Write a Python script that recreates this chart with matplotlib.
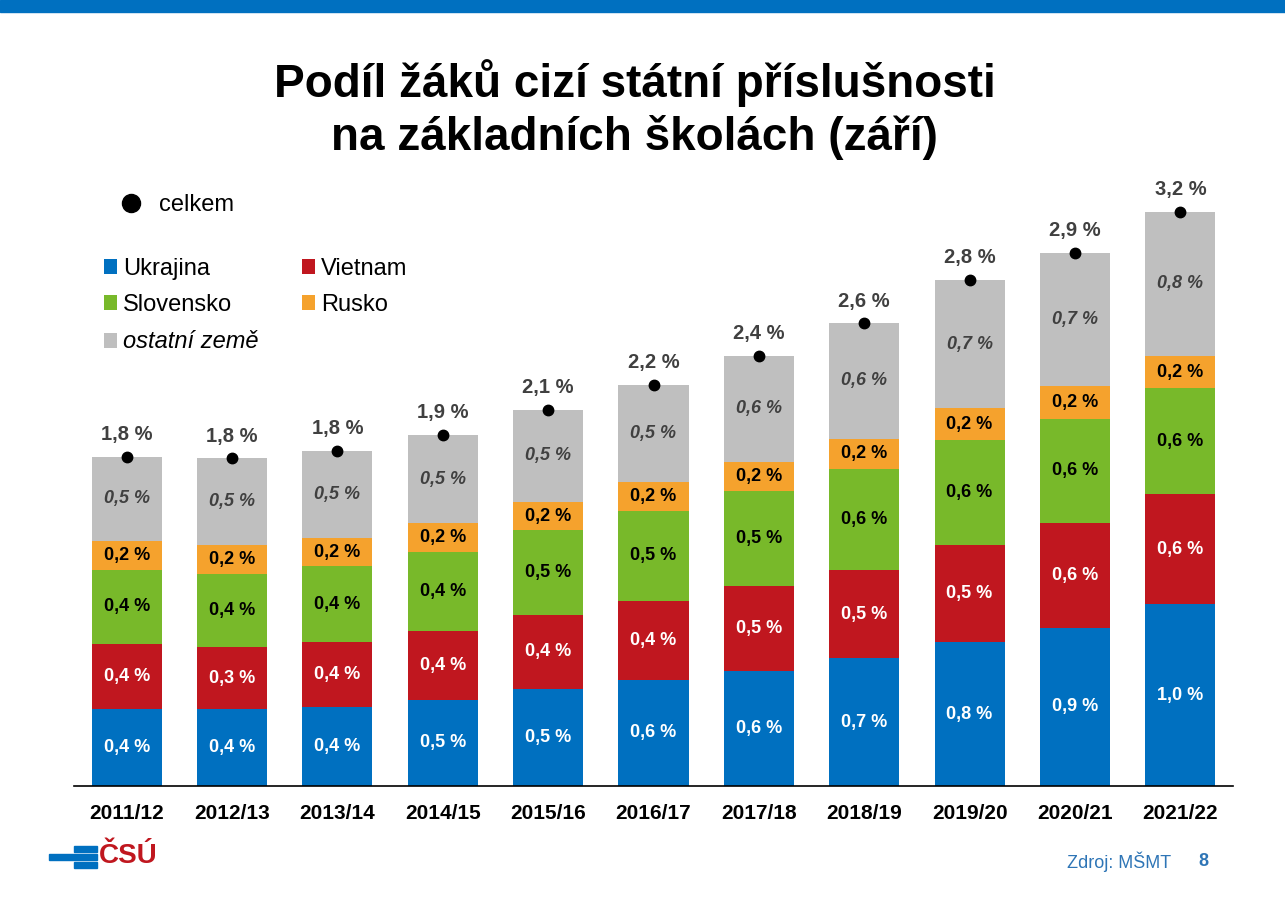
import matplotlib.pyplot as plt
from matplotlib.lines import Line2D
from matplotlib.patches import Rectangle

# data (podíl v %)
roky = ["2011/12", "2012/13", "2013/14", "2014/15", "2015/16", "2016/17",
        "2017/18", "2018/19", "2019/20", "2020/21", "2021/22"]
ukrajina = [0.43, 0.43, 0.44, 0.48, 0.54, 0.59, 0.64, 0.71, 0.80, 0.88, 1.01]
vietnam = [0.36, 0.34, 0.36, 0.38, 0.41, 0.44, 0.47, 0.49, 0.54, 0.58, 0.61]
slovensko = [0.41, 0.41, 0.42, 0.44, 0.47, 0.50, 0.53, 0.56, 0.58, 0.58, 0.59]
rusko = [0.16, 0.16, 0.16, 0.16, 0.16, 0.16, 0.16, 0.17, 0.18, 0.18, 0.18]
ostatni = [0.47, 0.48, 0.48, 0.49, 0.51, 0.54, 0.59, 0.64, 0.71, 0.74, 0.80]
celkem = [1.8, 1.8, 1.8, 1.9, 2.1, 2.2, 2.4, 2.6, 2.8, 2.9, 3.2]

plt.rcParams["font.family"] = ["Liberation Sans", "DejaVu Sans"]

modra = "#0070C0"
cervena = "#C0171F"
zelena = "#78B92A"
oranzova = "#F5A22D"
seda = "#BFBFBF"
tmava = "#404040"

fig = plt.figure(figsize=(12.85, 9.06), dpi=100)

# modrý pruh nahoře
fig.patches.append(Rectangle((0, 1 - 12 / 906), 1, 12 / 906, transform=fig.transFigure,
                             color=modra, zorder=0))

ax = fig.add_axes([74 / 1285, 1 - 786 / 906, 1159 / 1285, 630 / 906])

serie = [
    ("Ukrajina", ukrajina, modra, "white", "normal"),
    ("Vietnam", vietnam, cervena, "white", "normal"),
    ("Slovensko", slovensko, zelena, "black", "normal"),
    ("Rusko", rusko, oranzova, "black", "normal"),
    ("ostatní země", ostatni, seda, tmava, "italic"),
]

x = list(range(len(roky)))
bottom = [0.0] * len(roky)
kontejnery = {}
for nazev, hodnoty, barva, barva_txt, styl in serie:
    bars = ax.bar(x, hodnoty, width=0.665, bottom=bottom, color=barva, label=nazev)
    kontejnery[nazev] = bars
    for i, v in enumerate(hodnoty):
        ax.text(i, bottom[i] + v / 2, f"{v:.1f} %".replace(".", ","), ha="center", va="center",
                color=barva_txt, fontsize=13, fontweight="bold", fontstyle=styl)
    bottom = [b + v for b, v in zip(bottom, hodnoty)]

# celkem - tečky
ax.plot(x, bottom, "o", color="black", markersize=7.5, zorder=5, clip_on=False)
for i, c in enumerate(celkem):
    ax.annotate(f"{c:.1f} %".replace(".", ","), (i, bottom[i]), xytext=(0, 16),
                textcoords="offset points", ha="center", va="center",
                color=tmava, fontsize=14.5, fontweight="bold")

ax.set_xlim(-0.5, 10.5)
ax.set_ylim(0, 3.5)
ax.set_xticks(x)
ax.set_xticklabels(roky, fontsize=15, fontweight="bold")
ax.tick_params(axis="x", length=0, pad=13)
ax.set_yticks([])
for s in ["top", "right", "left"]:
    ax.spines[s].set_visible(False)
ax.spines["bottom"].set_linewidth(1.2)

# legenda
leg1 = fig.legend(handles=[Line2D([], [], marker="o", color="black", linestyle="none", markersize=13)],
                  labels=["celkem"], loc="center left", bbox_to_anchor=(113 / 1285, 1 - 205 / 906),
                  frameon=False, fontsize=17, handlelength=1.5, handletextpad=0.45,
                  borderpad=0, borderaxespad=0)
poradi = ["Ukrajina", "Slovensko", "ostatní země", "Vietnam", "Rusko"]
leg2 = fig.legend(handles=[kontejnery[n] for n in poradi], labels=poradi, ncol=2,
                  loc="upper left", bbox_to_anchor=(104 / 1285, 1 - 258 / 906),
                  frameon=False, fontsize=17, handlelength=0.55, handleheight=0.6,
                  handletextpad=0.25, labelspacing=0.6, columnspacing=1.85,
                  borderpad=0, borderaxespad=0)
for t in leg2.get_texts():
    if t.get_text() == "ostatní země":
        t.set_fontstyle("italic")

# nadpis
fig.text(0.494, 1 - 83 / 906, "Podíl žáků cizí státní příslušnosti", ha="center", va="center",
         fontsize=33, fontweight="bold")
fig.text(0.494, 1 - 137 / 906, "na základních školách (září)", ha="center", va="center",
         fontsize=33, fontweight="bold")

# logo a zdroj
fig.patches.append(Rectangle((49 / 1285, 1 - 860 / 906), 48 / 1285, 6 / 906,
                             transform=fig.transFigure, color=modra))
fig.patches.append(Rectangle((74 / 1285, 1 - 852 / 906), 23 / 1285, 6 / 906,
                             transform=fig.transFigure, color=modra))
fig.patches.append(Rectangle((74 / 1285, 1 - 868 / 906), 23 / 1285, 6 / 906,
                             transform=fig.transFigure, color=modra))
fig.text(99 / 1285, 1 - 856 / 906, "ČSÚ", ha="left", va="center", fontsize=20,
         fontweight="bold", color=cervena)
fig.text(1067 / 1285, 1 - 862 / 906, "Zdroj: MŠMT", ha="left", va="center", fontsize=13,
         color="#2E75B6")
fig.text(1203 / 1285, 1 - 862 / 906, "8", ha="center", va="center", fontsize=13,
         fontweight="bold", color="#2E75B6")

fig.savefig("out.png", dpi=100)
